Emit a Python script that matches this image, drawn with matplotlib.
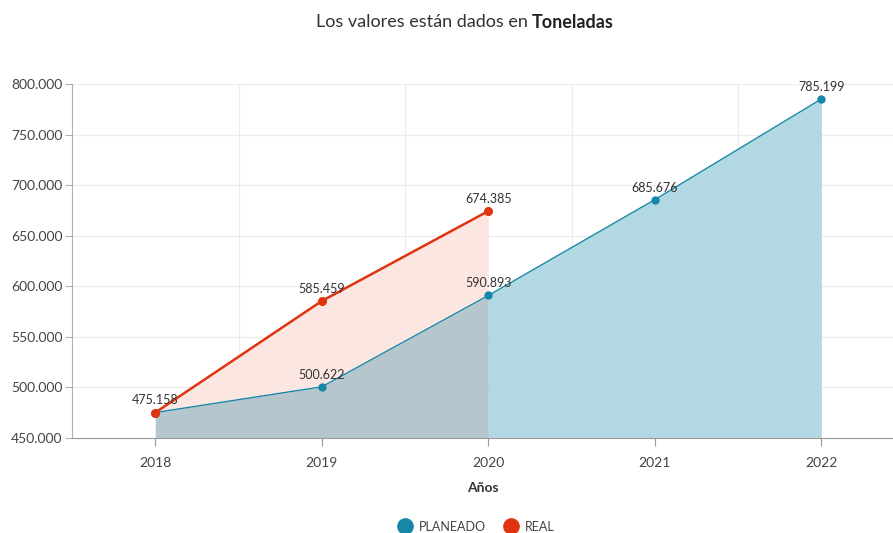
import numpy as np
import matplotlib.pyplot as plt
from matplotlib.lines import Line2D

plt.rcParams['font.family'] = ['Lato', 'DejaVu Sans']

years = ['2018', '2019', '2020', '2021', '2022']
planeado = [475158, 500622, 590893, 685676, 785199]
real = [475158, 585459, 674385]

C_PLAN = '#1687a7'
C_REAL = '#e0340f'
FILL_PLAN = '#b2d9e3'
FILL_OVER = '#b5c6cc'
FILL_REAL = '#fce6e2'

def fmt(v):
    return f"{v:,}".replace(",", ".")

fig = plt.figure(figsize=(8.93, 5.33), dpi=100)
ax = fig.add_axes([72/893, 95/533, (893-72)/893, 354/533])

x = np.arange(len(years))
xr = np.arange(len(real))
nr = len(real)

# areas
ax.fill_between(x[nr-1:], 450000, planeado[nr-1:], color=FILL_PLAN, lw=0, zorder=1)
ax.fill_between(xr, 450000, planeado[:nr], color=FILL_OVER, lw=0, zorder=1)
ax.fill_between(xr, planeado[:nr], real, color=FILL_REAL, lw=0, zorder=1)

ax.plot(x, planeado, color=C_PLAN, lw=1, marker='o', ms=5, zorder=3)
ax.plot(xr, real, color=C_REAL, lw=1.8, marker='o', ms=5.5, zorder=4)

for xi, v in zip(x, planeado):
    if xi == 0:
        continue
    ax.text(xi, v + 6000, fmt(v), ha='center', va='bottom', fontsize=9, color='#333333', zorder=5)
for xi, v in zip(xr, real):
    ax.text(xi, v + 6000, fmt(v), ha='center', va='bottom', fontsize=9, color='#333333', zorder=5)

ax.set_xlim(-0.5, 4.43)
ax.set_ylim(450000, 800000)
ax.set_yticks(np.arange(450000, 800001, 50000))
ax.set_yticklabels([fmt(v) for v in range(450000, 800001, 50000)])
ax.set_xticks(x)
ax.set_xticklabels(years)
ax.set_xticks(np.arange(-0.5, 4.5, 1), minor=True)

ax.grid(True, axis='y', color='#ececec', lw=0.8, zorder=0)
ax.grid(True, axis='x', which='minor', color='#ececec', lw=0.8, zorder=0)
ax.set_axisbelow(True)

for s in ['top', 'right']:
    ax.spines[s].set_visible(False)
ax.spines['left'].set_color('#b0b0b0')
ax.spines['bottom'].set_color('#9a9a9a')
ax.tick_params(axis='y', colors='#b0b0b0', labelcolor='#444444', labelsize=10, length=5, pad=2)
ax.tick_params(axis='x', colors='#9a9a9a', labelcolor='#444444', labelsize=10, length=6, pad=8)
ax.tick_params(axis='x', which='minor', length=0)

ax.set_xlabel('Años', fontsize=10, fontweight='bold', color='#333333', labelpad=9)

fig.text(0.596, 0.958, 'Los valores están dados en ', ha='right', va='center', fontsize=13, color='#333333')
fig.text(0.596, 0.958, 'Toneladas', ha='left', va='center', fontsize=13, fontweight='bold', color='#222222')

handles = [
    Line2D([], [], marker='o', ls='', color=C_PLAN, ms=11, label='PLANEADO'),
    Line2D([], [], marker='o', ls='', color=C_REAL, ms=11, label='REAL'),
]
fig.legend(handles=handles, loc='center', bbox_to_anchor=(0.53, 0.012), ncol=2, frameon=False,
           fontsize=9, handletextpad=0.1, columnspacing=1.0, labelcolor='#444444')

fig.savefig('out.png', dpi=100)
